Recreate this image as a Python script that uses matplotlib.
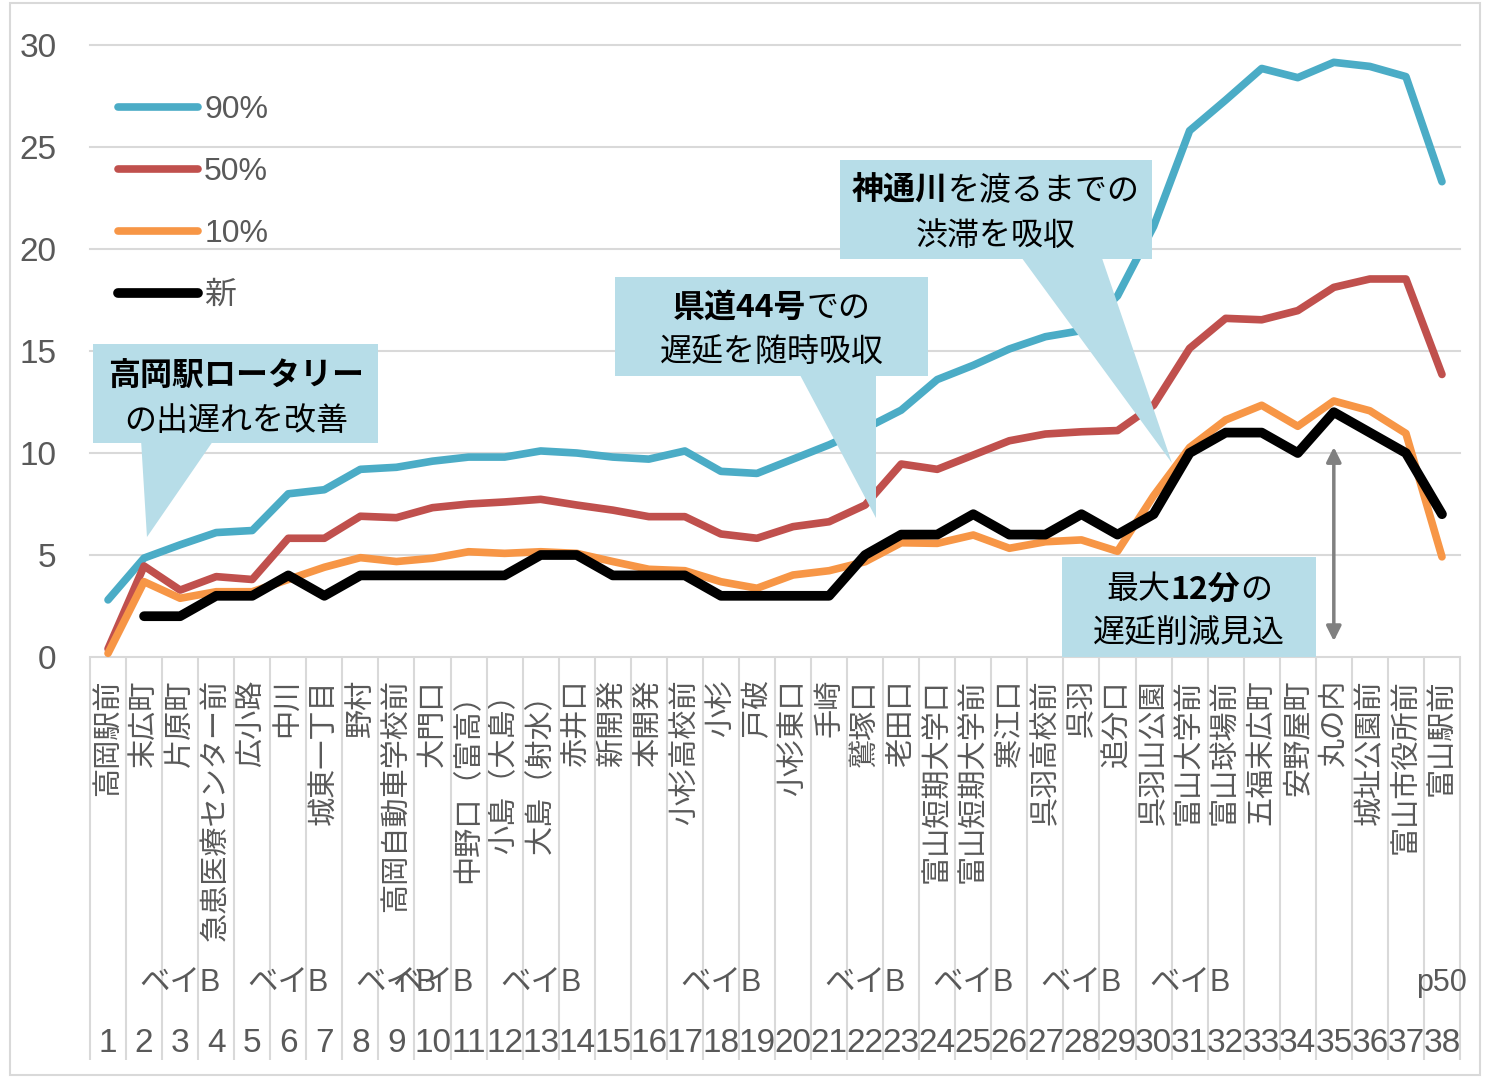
import numpy as np
import matplotlib
matplotlib.use("Agg")
from matplotlib import pyplot as plt
from matplotlib.patches import Rectangle, Polygon
from matplotlib.offsetbox import TextArea, HPacker, VPacker, AnnotationBbox

plt.rcParams['font.family'] = ['Liberation Sans', 'Noto Sans CJK JP']

# バス停（x軸）
stops = ["高岡駅前", "末広町", "片原町", "急患医療センター前", "広小路", "中川", "城東一丁目",
         "野村", "高岡自動車学校前", "大門口", "中野口（富高）", "小島（大島）", "大島（射水）",
         "赤井口", "新開発", "本開発", "小杉高校前", "小杉", "戸破", "小杉東口", "手崎",
         "鷲塚口", "老田口", "富山短期大学口", "富山短期大学前", "寒江口", "呉羽高校前", "呉羽",
         "追分口", "呉羽山公園", "富山大学前", "富山球場前", "五福末広町", "安野屋町", "丸の内",
         "城址公園前", "富山市役所前", "富山駅前"]
groups = ["", "", "ベイB", "", "", "ベイB", "", "", "ベイB", "ベイB", "", "", "ベイB", "",
          "", "", "", "ベイB", "", "", "", "ベイB", "", "", "ベイB", "", "", "ベイB", "", "",
          "ベイB", "", "", "", "", "", "", "p50"]
numbers = [str(i) for i in range(1, 39)]

# 遅延（分）
p90 = [2.8, 4.85, 5.5, 6.1, 6.2, 8.0, 8.2, 9.2, 9.3, 9.6, 9.8, 9.8, 10.1, 10.0, 9.8, 9.7,
       10.1, 9.1, 9.0, 9.7, 10.4, 11.2, 12.1, 13.6, 14.3, 15.1, 15.7, 16.0, 17.7, 21.1, 25.8,
       27.3, 28.85, 28.4, 29.15, 28.95, 28.45, 23.3]
p50 = [0.4, 4.46, 3.28, 3.94, 3.8, 5.82, 5.82, 6.9, 6.83, 7.32, 7.5, 7.6, 7.73, 7.45, 7.2,
       6.88, 6.88, 6.03, 5.82, 6.39, 6.63, 7.45, 9.46, 9.2, 9.9, 10.6, 10.93, 11.04, 11.1,
       12.34, 15.13, 16.6, 16.53, 16.98, 18.12, 18.53, 18.53, 13.85]
p10 = [0.18, 3.69, 2.88, 3.2, 3.2, 3.8, 4.4, 4.87, 4.68, 4.84, 5.16, 5.08, 5.16, 5.08, 4.68,
       4.3, 4.23, 3.69, 3.37, 4.02, 4.23, 4.67, 5.6, 5.57, 5.98, 5.33, 5.65, 5.74, 5.18, 7.9,
       10.27, 11.62, 12.34, 11.31, 12.55, 12.07, 10.96, 4.91]
new = [np.nan, 2, 2, 3, 3, 4, 3, 4, 4, 4, 4, 4, 5, 5, 4, 4, 4, 3, 3, 3, 3, 5, 6, 6, 7, 6, 6,
       7, 6, 7, 10, 11, 11, 10, 12, 11, 10, 7]

GRAY = '#595959'
GRID = '#d9d9d9'
CALLOUT = '#b7dde8'
CJK = 'Noto Sans CJK JP'

fig = plt.figure(figsize=(14.86, 10.78), dpi=100)
ax = fig.add_axes([90 / 1486, 421 / 1078, 1370 / 1486, 612 / 1078])

x = np.arange(len(stops))
line_kw = dict(solid_capstyle='round', solid_joinstyle='round', clip_on=False)
ax.plot(x, p90, color='#4bacc6', lw=5.5, label='90%', **line_kw)
ax.plot(x, p50, color='#c0504d', lw=5.5, label='50%', **line_kw)
ax.plot(x, p10, color='#f79646', lw=5.5, label='10%', **line_kw)
ax.plot(x, new, color='black', lw=7, label='新', **line_kw)

ax.set_xlim(-0.5, len(stops) - 0.5)
ax.set_ylim(0, 30)
ax.set_yticks(range(0, 31, 5))
ax.grid(axis='y', color=GRID, lw=1.5)
for gl in ax.get_ygridlines():
    gl.set_clip_on(False)
ax.set_axisbelow(True)
for s in ax.spines.values():
    s.set_visible(False)
ax.tick_params(axis='y', length=0, pad=24, labelsize=24, labelcolor=GRAY)
ax.set_xticks(x, stops, rotation=90, fontsize=21, color=GRAY, va='top', family=CJK)
ax.tick_params(axis='x', length=0, pad=16)

# 多段カテゴリ
xt = ax.get_xaxis_transform()
ax.vlines(np.arange(len(stops) + 1) - 0.5, -0.658, 0, transform=xt, colors=GRID, lw=1.5,
          clip_on=False)
for i, g in enumerate(groups):
    if g:
        ax.text(i, -0.533, g, transform=xt, ha='center', va='center', fontsize=22, color=GRAY)
for i, n in enumerate(numbers):
    ax.text(i, -0.632, n, transform=xt, ha='center', va='center', fontsize=24, color=GRAY)

ax.legend(loc='upper left', bbox_to_anchor=(0.0204, 0.918), frameon=False, fontsize=23,
          labelcolor=GRAY, handlelength=2.5, handletextpad=0.2, labelspacing=1.0,
          borderpad=0, borderaxespad=0)


def callout(box, tri, lines, center):
    x0, x1, y0, y1 = box
    ax.add_patch(Rectangle((x0, y0), x1 - x0, y1 - y0, fc=CALLOUT, ec='none', zorder=5,
                           clip_on=False))
    if tri is not None:
        ax.add_patch(Polygon(tri, closed=True, fc=CALLOUT, ec='none', zorder=5, clip_on=False))
    rows = []
    for segs in lines:
        parts = [TextArea(t, textprops=dict(fontsize=23, family=CJK, color='black',
                                            fontweight='bold' if b else 'normal'))
                 for t, b in segs]
        rows.append(HPacker(children=parts, pad=0, sep=0, align='baseline'))
    pack = VPacker(children=rows, pad=0, sep=9, align='center')
    ab = AnnotationBbox(pack, center, xycoords='data', frameon=False, box_alignment=(0.5, 0.5))
    ab.set_zorder(6)
    ax.add_artist(ab)


callout((-0.42, 7.49, 10.49, 15.34), [(0.92, 10.5), (2.88, 10.5), (1.08, 5.88)],
        [[("高岡駅ロータリー", True)], [("の出遅れを改善", False)]], (3.55, 12.65))
callout((14.06, 22.75, 13.77, 18.63), [(19.19, 13.8), (21.3, 13.8), (21.3, 6.81)],
        [[("県道44号", True), ("での", False)], [("遅延を随時吸収", False)]], (18.4, 16.05))
callout((20.3, 28.96, 19.51, 24.36), [(25.35, 19.55), (27.57, 19.55), (29.51, 9.51)],
        [[("神通川", True), ("を渡るまでの", False)], [("渋滞を吸収", False)]], (24.63, 21.75))
callout((26.46, 33.51, 0, 4.9), None,
        [[("最大", False), ("12分", True), ("の", False)], [("遅延削減見込", False)]],
        (29.99, 2.22))

ax.annotate('', xy=(34, 10.29), xytext=(34, 0.78),
            arrowprops=dict(arrowstyle='<|-|>', color='#808080', lw=2.5, mutation_scale=22,
                            shrinkA=0, shrinkB=0), zorder=6)

fig.add_artist(Rectangle((10 / 1486, 3 / 1078), 1470 / 1486, 1072 / 1078,
                         transform=fig.transFigure, fill=False, ec=GRID, lw=1.5))

fig.savefig('out.png', dpi=100)
